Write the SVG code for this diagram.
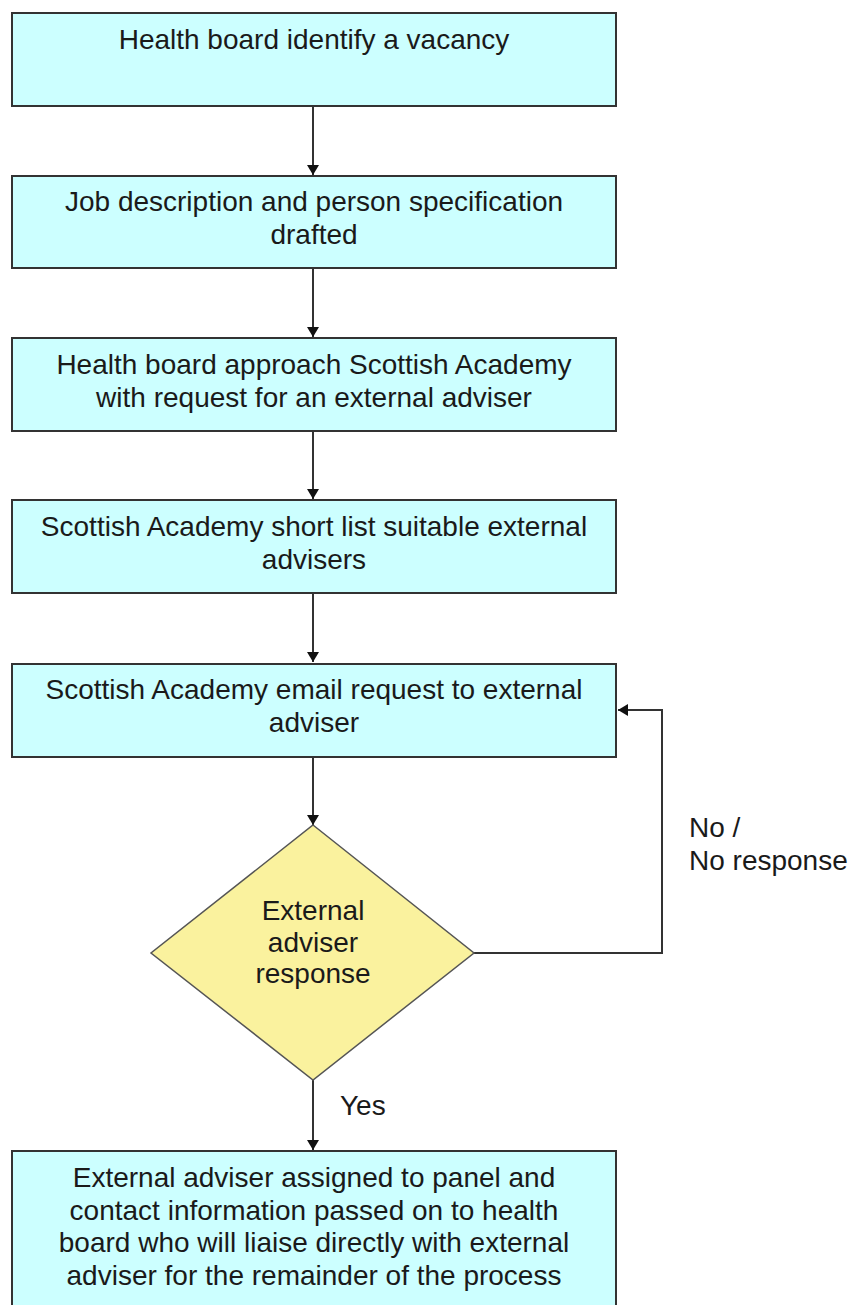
<svg xmlns="http://www.w3.org/2000/svg" width="853" height="1305" viewBox="0 0 853 1305">
<defs>
<style>
.box{fill:#CCFFFF;stroke:#333333;stroke-width:2}
.dia{fill:#FAF29E;stroke:#555555;stroke-width:1.5}
.t{font-family:"Liberation Sans",Arial,sans-serif;font-size:28px;fill:#1a1a1a;text-anchor:middle}
.l{font-family:"Liberation Sans",Arial,sans-serif;font-size:28px;fill:#1a1a1a}
.c{fill:none;stroke:#333333;stroke-width:2}
</style>
<marker id="ah" viewBox="0 0 10 12" refX="10" refY="6" markerWidth="10" markerHeight="12" markerUnits="userSpaceOnUse" orient="auto">
<path d="M0,0 L10,6 L0,12 Z" fill="#111111"/>
</marker>
</defs>
<rect width="853" height="1305" fill="#ffffff"/>
<g id="connectors">
<line class="c" x1="313" y1="106" x2="313" y2="175" marker-end="url(#ah)"/>
<line class="c" x1="313" y1="268" x2="313" y2="337" marker-end="url(#ah)"/>
<line class="c" x1="313" y1="431" x2="313" y2="499" marker-end="url(#ah)"/>
<line class="c" x1="313" y1="593" x2="313" y2="662" marker-end="url(#ah)"/>
<line class="c" x1="313" y1="757" x2="313" y2="825" marker-end="url(#ah)"/>
<line class="c" x1="313" y1="1080" x2="313" y2="1150" marker-end="url(#ah)"/>
<polyline class="c" points="474,953 662,953 662,710 618,710" marker-end="url(#ah)"/>
<text class="l" x="689" y="837">No /</text>
<text class="l" x="689" y="870">No response</text>
<text class="l" x="340" y="1115">Yes</text>
</g>
<g id="n1">
<rect class="box" x="12" y="13" width="604" height="93"/>
<text class="t" x="314" y="49">Health board identify a vacancy</text>
</g>
<g id="n2">
<rect class="box" x="12" y="176" width="604" height="92"/>
<text class="t" x="314" y="211">Job description and person specification</text>
<text class="t" x="314" y="244">drafted</text>
</g>
<g id="n3">
<rect class="box" x="12" y="338" width="604" height="93"/>
<text class="t" x="314" y="374">Health board approach Scottish Academy</text>
<text class="t" x="314" y="407">with request for an external adviser</text>
</g>
<g id="n4">
<rect class="box" x="12" y="500" width="604" height="93"/>
<text class="t" x="314" y="536">Scottish Academy short list suitable external</text>
<text class="t" x="314" y="569">advisers</text>
</g>
<g id="n5">
<rect class="box" x="12" y="664" width="604" height="93"/>
<text class="t" x="314" y="699">Scottish Academy email request to external</text>
<text class="t" x="314" y="732">adviser</text>
</g>
<g id="n6">
<polygon class="dia" points="313,825 474,953 313,1080 151,953"/>
<text class="t" x="313" y="920">External</text>
<text class="t" x="313" y="952">adviser</text>
<text class="t" x="313" y="983">response</text>
</g>
<g id="n7">
<rect class="box" x="12" y="1151" width="604" height="160"/>
<text class="t" x="314" y="1187">External adviser assigned to panel and</text>
<text class="t" x="314" y="1220">contact information passed on to health</text>
<text class="t" x="314" y="1252">board who will liaise directly with external</text>
<text class="t" x="314" y="1285">adviser for the remainder of the process</text>
</g>
</svg>
